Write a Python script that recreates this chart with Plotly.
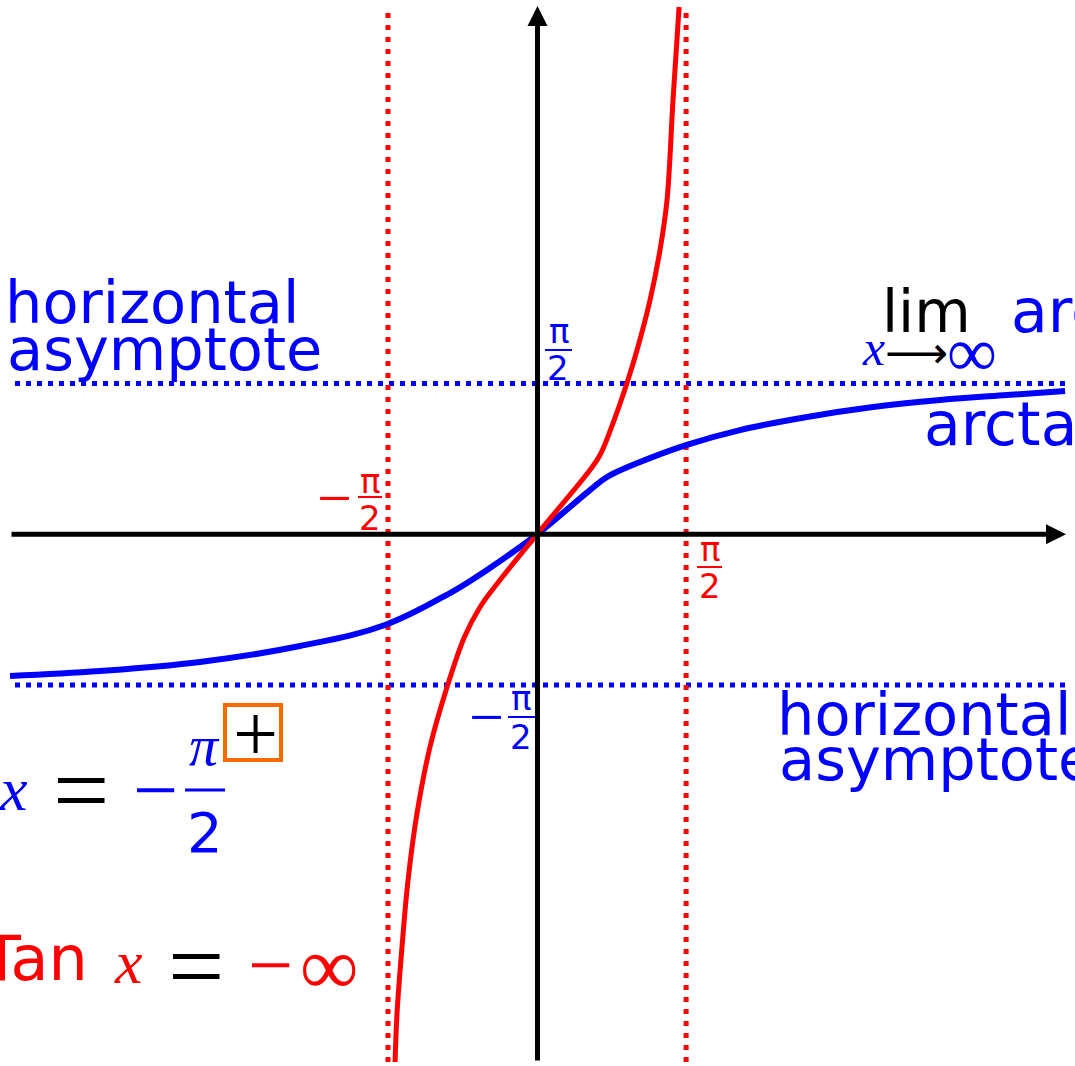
import math
import plotly.graph_objects as go

W, H = 1075, 1066

# axis ranges (data units)
X_RANGE = [-5.659, 5.669]
Y_RANGE = [-5.539, 5.566]

# red curve (Tan x) samples
tan_x = [-1.496, -1.475, -1.423, -1.359, -1.264, -1.128, -0.948, -0.765, -0.600, -0.390,
         0.0, 0.558, 0.664, 0.801, 0.948, 1.054, 1.191, 1.296, 1.370, 1.433, 1.497]
tan_y = [-5.497, -4.986, -4.299, -3.601, -2.903, -2.216, -1.591, -1.070, -0.757, -0.476,
         0.0, 0.670, 0.826, 1.159, 1.576, 1.920, 2.441, 2.961, 3.482, 4.524, 5.493]

# blue curve (arctan x) samples
arc_x = [-5.553, -4.605, -3.551, -2.497, -1.602, -0.917, -0.738, -0.527, 0.0,
         0.558, 0.738, 1.085, 1.570, 2.139, 2.845, 3.541, 4.247, 4.953, 5.564]
arc_y = [-1.476, -1.424, -1.330, -1.164, -0.945, -0.612, -0.507, -0.372, 0.0,
         0.461, 0.597, 0.753, 0.930, 1.086, 1.222, 1.326, 1.399, 1.451, 1.493]

# asymptotes
V_ASYM = [-math.pi / 2, math.pi / 2]
H_ASYM = [-math.pi / 2, math.pi / 2]

BLUE = "#0000ff"
RED = "#ff0000"
BLACK = "#000000"
ORANGE = "#ff6a00"


def dx(px):
    return X_RANGE[0] + px / W * (X_RANGE[1] - X_RANGE[0])


def dy(py):
    return Y_RANGE[1] - py / H * (Y_RANGE[1] - Y_RANGE[0])


def px_(px):
    return px / W


def py_(py):
    return 1 - py / H


fig = go.Figure()

fig.add_trace(go.Scatter(x=arc_x, y=arc_y, mode="lines",
                         line=dict(color=BLUE, width=6, shape="spline", smoothing=1.1),
                         hoverinfo="skip"))
fig.add_trace(go.Scatter(x=tan_x, y=tan_y, mode="lines",
                         line=dict(color=RED, width=5, shape="spline", smoothing=1.0),
                         hoverinfo="skip"))

shapes = []
for yv in H_ASYM:
    shapes.append(dict(type="line", xref="x", yref="y", x0=dx(15), x1=dx(1066), y0=yv, y1=yv,
                       line=dict(color=BLUE, width=5, dash="5px,6px"), layer="below"))
for xv in V_ASYM:
    shapes.append(dict(type="line", xref="x", yref="y", x0=xv, x1=xv, y0=dy(1062), y1=dy(13),
                       line=dict(color=RED, width=5, dash="5px,7px"), layer="below"))

annotations = []

# axes with arrows
annotations.append(dict(xref="paper", yref="paper", x=px_(1066), y=py_(534.3), ax=-(1066 - 10), ay=0,
                        text="", showarrow=True, arrowhead=2, arrowsize=0.8, arrowwidth=5,
                        arrowcolor=BLACK, standoff=0))
annotations.append(dict(xref="paper", yref="paper", x=px_(537.5), y=py_(6), ax=0, ay=1062 - 6,
                        text="", showarrow=True, arrowhead=2, arrowsize=0.8, arrowwidth=5,
                        arrowcolor=BLACK, standoff=0))

SANS = "DejaVu Sans"
SERIF = "Liberation Serif"


def label(text, x, baseline=None, center=None, fs=57, color=BLUE, family=SANS, anchor="left",
          lower=False):
    if center is None:
        yc = baseline - 0.346 * fs
    else:
        yc = center - (0.076 * fs if lower else 0)
    annotations.append(dict(xref="paper", yref="paper", x=px_(x), y=py_(yc), text=text,
                            showarrow=False, xanchor=anchor, yanchor="middle",
                            font=dict(family=family, size=fs, color=color),
                            borderpad=0, borderwidth=0))


def bar(x0, x1, y, color, w=2):
    shapes.append(dict(type="line", xref="paper", yref="paper", x0=px_(x0), x1=px_(x1),
                       y0=py_(y), y1=py_(y), line=dict(color=color, width=w)))


# horizontal asymptote labels
label("horizontal", 5, baseline=323, fs=59)
label("asymptote", 7, baseline=370, fs=59)
label("horizontal", 777, baseline=735, fs=59)
label("asymptote", 779, baseline=780, fs=59)

# lim arctan
label("lim", 882, baseline=332, fs=58, color=BLACK)
label("arctan", 1011, baseline=332, fs=60)
label("<i>x</i>", 873, center=351.5, fs=50, family=SERIF, anchor="center", lower=True)
label("⟶", 916, center=352, fs=44, color=BLACK, anchor="center")
label("∞", 972, center=352, fs=70, family=SERIF, anchor="center")
label("arctan", 924, baseline=445, fs=60)

# red -pi/2 (left)
label("−", 334, center=498, fs=62, color=RED, family=SERIF, anchor="center")
label("π", 369.5, center=484, fs=34, color=RED, anchor="center", lower=True)
bar(358, 382, 497, RED)
label("2", 370, center=517.5, fs=34, color=RED, anchor="center")

# red pi/2 (right)
label("π", 709.5, center=552, fs=34, color=RED, anchor="center", lower=True)
bar(697, 722, 567, RED)
label("2", 710, center=585.5, fs=34, color=RED, anchor="center")

# blue pi/2
label("π", 558.5, center=334, fs=34, anchor="center", lower=True)
bar(545, 572, 350, BLUE)
label("2", 558, center=367.5, fs=34, anchor="center")

# blue -pi/2
label("−", 486, center=717, fs=62, family=SERIF, anchor="center")
label("π", 521, center=701, fs=34, anchor="center", lower=True)
bar(508, 535, 717, BLUE)
label("2", 521, center=736.5, fs=34, anchor="center")

# x = -pi/2 +
label("<i>x</i>", 13, center=793.5, fs=62, family=SERIF, anchor="center", lower=True)
label("=", 81, center=790, fs=100, color=BLACK, family=SERIF, anchor="center")
label("−", 155, center=790, fs=80, family=SERIF, anchor="center")
label("<i>π</i>", 204.5, center=750, fs=58, family=SERIF, anchor="center", lower=True)
bar(185, 225, 790, BLUE, w=3)
label("2", 205, center=832.5, fs=56, anchor="center")
shapes.append(dict(type="rect", xref="paper", yref="paper", x0=px_(225), x1=px_(281),
                   y0=py_(705), y1=py_(760), line=dict(color=ORANGE, width=4)))
label("+", 255, center=734, fs=80, color=BLACK, family=SERIF, anchor="center")

# Tan x = -inf
label("Tan", -18, baseline=980, fs=62, color=RED)
label("<i>x</i>", 128, center=966.5, fs=62, color=RED, family=SERIF, anchor="center", lower=True)
label("=", 196, center=966, fs=100, color=BLACK, family=SERIF, anchor="center")
label("−", 270, center=965, fs=80, color=RED, family=SERIF, anchor="center")
label("∞", 329, center=966.5, fs=82, color=RED, family=SERIF, anchor="center")

fig.update_layout(
    width=W, height=H,
    margin=dict(l=0, r=0, t=0, b=0),
    paper_bgcolor="white", plot_bgcolor="white",
    showlegend=False,
    font=dict(family=SANS),
    xaxis=dict(range=X_RANGE, visible=False),
    yaxis=dict(range=Y_RANGE, visible=False),
    shapes=shapes,
    annotations=annotations,
)

fig.write_html("out.html", config={"displayModeBar": False},
               post_script="document.body.style.margin='0';document.body.style.overflow='hidden';")
